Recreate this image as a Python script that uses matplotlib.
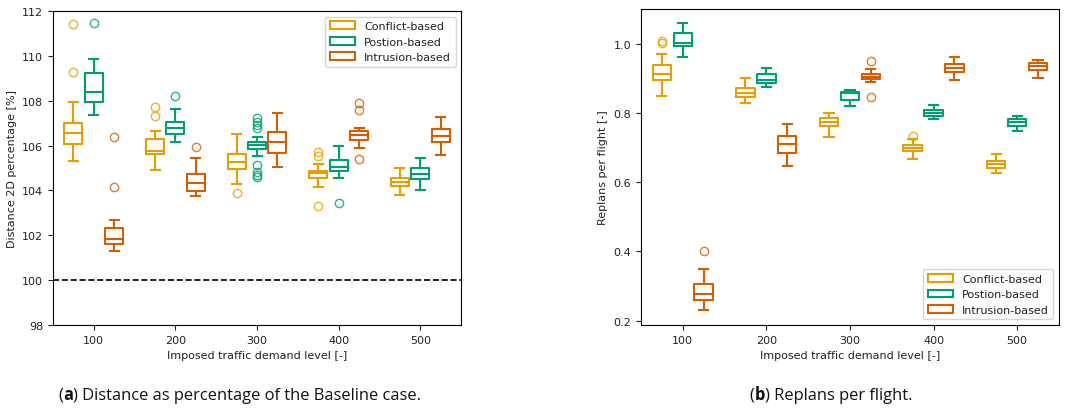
import matplotlib
matplotlib.use('Agg')
import matplotlib.pyplot as plt
from matplotlib.patches import Patch
import numpy as np

levels = [100, 200, 300, 400, 500]
methods = ['Conflict-based', 'Postion-based', 'Intrusion-based']
colors = ['#E69F00', '#009E73', '#D55E00']

# distance 2D percentage, per method: rows = levels
# columns: whislo, q1, med, q3, whishi
dist_conflict = [
    [105.31, 106.07, 106.58, 107.00, 107.93],
    [104.90, 105.61, 105.76, 106.29, 106.64],
    [104.30, 104.94, 105.25, 105.61, 106.52],
    [104.17, 104.55, 104.76, 104.87, 105.16],
    [103.81, 104.20, 104.39, 104.57, 105.01],
]
dist_position = [
    [107.36, 107.93, 108.37, 109.25, 109.85],
    [106.15, 106.52, 106.77, 107.07, 107.63],
    [105.52, 105.83, 106.04, 106.16, 106.38],
    [104.55, 104.87, 105.06, 105.36, 105.97],
    [104.02, 104.50, 104.75, 105.00, 105.43],
]
dist_intrusion = [
    [101.31, 101.61, 101.82, 102.33, 102.70],
    [103.74, 103.98, 104.32, 104.72, 105.43],
    [105.06, 105.66, 106.15, 106.62, 107.44],
    [105.89, 106.25, 106.47, 106.66, 106.80],
    [105.59, 106.15, 106.43, 106.75, 107.29],
]
dist_fliers_conflict = [[111.42, 109.28], [107.73, 107.30], [103.90], [105.73, 105.55, 103.29], []]
dist_fliers_position = [[111.47], [108.21], [107.22, 107.07, 106.92, 106.77, 105.13, 104.84, 104.69, 104.60], [103.44], []]
dist_fliers_intrusion = [[106.40, 104.15], [105.95], [], [107.90, 107.59, 105.40], []]

# replans per flight
rep_conflict = [
    [0.848, 0.896, 0.912, 0.937, 0.969],
    [0.830, 0.845, 0.858, 0.872, 0.902],
    [0.730, 0.762, 0.773, 0.785, 0.800],
    [0.666, 0.689, 0.700, 0.708, 0.724],
    [0.627, 0.640, 0.651, 0.662, 0.680],
]
rep_position = [
    [0.961, 0.994, 1.001, 1.032, 1.061],
    [0.875, 0.885, 0.896, 0.911, 0.930],
    [0.821, 0.838, 0.858, 0.861, 0.865],
    [0.783, 0.792, 0.801, 0.809, 0.823],
    [0.748, 0.762, 0.773, 0.781, 0.792],
]
rep_intrusion = [
    [0.231, 0.259, 0.278, 0.307, 0.350],
    [0.648, 0.684, 0.710, 0.733, 0.768],
    [0.890, 0.898, 0.904, 0.911, 0.927],
    [0.895, 0.918, 0.930, 0.940, 0.961],
    [0.900, 0.925, 0.935, 0.943, 0.954],
]
rep_fliers_conflict = [[1.003, 1.007], [], [], [0.734], []]
rep_fliers_position = [[], [], [], [], []]
rep_fliers_intrusion = [[0.402], [], [0.949, 0.847], [], []]

offsets = [-25, 0, 25]

plt.rcParams['font.family'] = 'DejaVu Sans'
plt.rcParams['font.size'] = 8
plt.rcParams['text.color'] = '#222222'
plt.rcParams['axes.labelcolor'] = '#222222'
plt.rcParams['xtick.color'] = '#222222'
plt.rcParams['ytick.color'] = '#222222'


def stats(rows, fliers):
    out = []
    for r, f in zip(rows, fliers):
        out.append(dict(whislo=r[0], q1=r[1], med=r[2], q3=r[3], whishi=r[4],
                        fliers=f))
    return out


def draw(ax, series, flier_sets):
    for i, (rows, fl) in enumerate(zip(series, flier_sets)):
        c = colors[i]
        pos = [lv + offsets[i] for lv in levels]
        ax.bxp(stats(rows, fl), positions=pos, widths=22,
               boxprops=dict(color=c, lw=1.5),
               medianprops=dict(color=c, lw=1.5),
               whiskerprops=dict(color=c, lw=1.5),
               capprops=dict(color=c, lw=1.5),
               flierprops=dict(marker='o', mfc='none', mec=c, ms=6,
                               alpha=0.8))
    ax.set_xticks(levels)
    ax.set_xticklabels([str(lv) for lv in levels])
    ax.set_xlim(50, 550)
    ax.set_xlabel('Imposed traffic demand level [-]')


def caption(fig, xc, y, letter, rest):
    kw = dict(family='Open Sans', size=11.9, color='#111111')
    t1 = fig.text(0, y, '(', ha='left', va='baseline', **kw)
    t2 = fig.text(0, y, letter, ha='left', va='baseline', weight='bold', **kw)
    t3 = fig.text(0, y, ') ' + rest, ha='left', va='baseline', **kw)
    r = fig.canvas.get_renderer()
    w1 = t1.get_window_extent(r).width / fig.bbox.width
    w2 = t2.get_window_extent(r).width / fig.bbox.width
    w3 = t3.get_window_extent(r).width / fig.bbox.width
    x0 = xc - (w1 + w2 + w3) / 2
    t1.set_x(x0)
    t2.set_x(x0 + w1)
    t3.set_x(x0 + w1 + w2)


handles = [Patch(facecolor='none', edgecolor=c, lw=1.5) for c in colors]

fig = plt.figure(figsize=(10.69, 4.10), dpi=100)
ax1 = fig.add_axes([0.0496, 0.2049, 0.3817, 0.7659])
ax2 = fig.add_axes([0.5996, 0.2049, 0.3910, 0.7707])

draw(ax1, [dist_conflict, dist_position, dist_intrusion],
     [dist_fliers_conflict, dist_fliers_position, dist_fliers_intrusion])
ax1.axhline(100, color='k', ls='--', lw=1.2)
ax1.set_ylim(98, 112)
ax1.set_ylabel('Distance 2D percentage [%]')
ax1.legend(handles, methods, loc='upper right', handlelength=2.3)

draw(ax2, [rep_conflict, rep_position, rep_intrusion],
     [rep_fliers_conflict, rep_fliers_position, rep_fliers_intrusion])
ax2.set_ylim(0.1875, 1.10)
ax2.set_yticks([0.2, 0.4, 0.6, 0.8, 1.0])
ax2.set_ylabel('Replans per flight [-]')
ax2.legend(handles, methods, loc='lower right', handlelength=2.3)

caption(fig, 240 / 1069, 1 - 400 / 410, 'a', 'Distance as percentage of the Baseline case.')
caption(fig, 831 / 1069, 1 - 400 / 410, 'b', 'Replans per flight.')

plt.savefig('out.png', dpi=100)
